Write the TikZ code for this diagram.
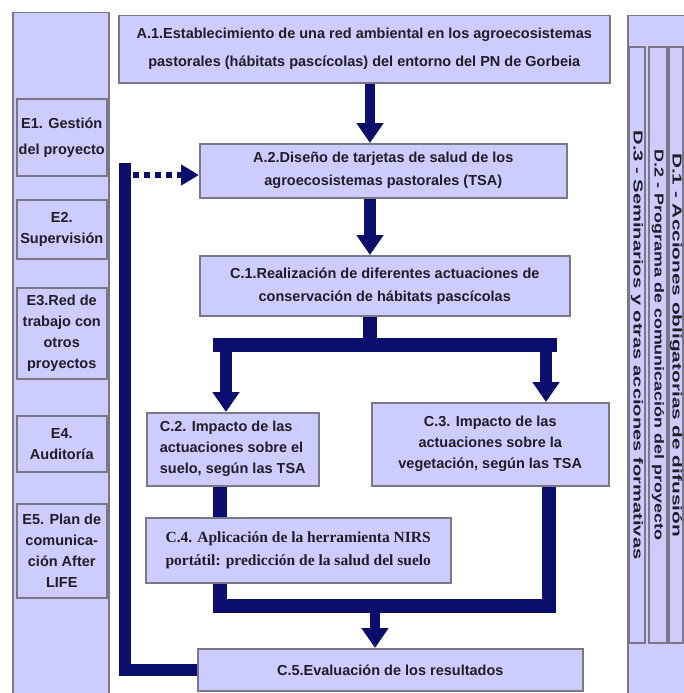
\documentclass[tikz,border=0pt]{standalone}
\usepackage{fontspec}
\setmainfont{Liberation Sans}
\newfontfamily\serifa{Liberation Serif}
\usetikzlibrary{arrows.meta}
\definecolor{lila}{RGB}{204,204,255}
\definecolor{marino}{RGB}{12,14,110}
\definecolor{borde}{RGB}{120,120,135}
\definecolor{texto}{RGB}{30,30,40}
\tikzset{ %inner sep = 0.5mm,
  {caja/.style} ={rectangle, draw=borde, line width=1.5pt, fill=lila,
                  anchor=north west, inner sep=0pt, align=center,
                  text=texto, font=\fontsize{14.5}{21}\selectfont\bfseries},
  {tira/.style} ={caja, anchor=center, rotate=-90,
                  font=\fontsize{13}{15}\selectfont\bfseries},
  {tronco/.style} ={draw=marino, line width=14pt},
  {flecha/.style} ={tronco, line width=12pt,
                    -{Triangle[width=26pt,length=20pt]}},
  {punteado/.style} ={draw=marino, line width=6pt, dash pattern=on 6pt off 5pt,
                      -{Triangle[width=20pt,length=18pt]}},
  linea/.style ={font=\fontsize{14.5}{#1}\selectfont\bfseries},
}

\begin{document}
\begin{tikzpicture}[x=1pt,y=-1pt]
    \useasboundingbox (0,0) rectangle (683,693);
    \fill[white] (0,0) rectangle (683,693);
    % columnas laterales
    \node[caja, minimum width=96, minimum height=700] (ecol) at (12,12) {};
    \node[caja, minimum width=80, minimum height=700] (dcol) at (627,15) {};
    \node[caja, linea=26, minimum width=90, minimum height=77] (e1) at (16,98)
    {E1. Gestión\\del proyecto};
    \node[caja, minimum width=90, minimum height=59] (e2) at (16,199)
    {E2.\\Supervisión};
    \node[caja, minimum width=90, minimum height=91] (e3) at (16,287)
    {E3.Red de\\trabajo con\\otros\\proyectos};
    \node[caja, minimum width=90, minimum height=56] (e4) at (16,415)
    {E4.\\Auditoría};
    \node[caja, minimum width=90, minimum height=94] (e5) at (16,503)
    {E5. Plan de\\comunica-\\ción After\\LIFE};
    \node[tira, minimum width=596, minimum height=16] (d3) at (637,345)
    {\scalebox{1.55}[1]{D.3 - Seminarios y otras acciones formativas}};
    \node[tira, minimum width=596, minimum height=18] (d2) at (658,345)
    {\scalebox{1.38}[1]{D.2 - Programa de comunicación del proyecto}};
    \node[tira, minimum width=596, minimum height=14] (d1) at (676,345)
    {\scalebox{1.6}[1]{D.1 - Acciones obligatorias de difusión}};
    % acciones
    \node[caja, linea=28, minimum width=491, minimum height=67] (a1) at (118,15)
    {A.1.Establecimiento de una red ambiental en los agroecosistemas\\
    pastorales (hábitats pascícolas) del entorno del PN de Gorbeia};
    \node[caja, linea=23, minimum width=367, minimum height=54] (a2) at (199,143)
    {A.2.Diseño de tarjetas de salud de los\\agroecosistemas pastorales (TSA)};
    \node[caja, linea=23, minimum width=370, minimum height=60] (c1) at (199,255)
    {C.1.Realización de diferentes actuaciones de\\
    conservación de hábitats pascícolas};
    \node[caja, align=left, minimum width=172, minimum height=73] (c2) at (146,412)
    {C.2. Impacto de las\\actuaciones sobre el\\suelo, según las TSA};
    \node[caja, minimum width=237, minimum height=83] (c3) at (371,402)
    {C.3. Impacto de las\\actuaciones sobre la\\vegetación, según las TSA};
    \node[caja, align=left, font=\serifa\fontsize{15.5}{23}\selectfont\bfseries,
    minimum width=305, minimum height=65] (c4) at (145,517)
    {C.4. Aplicación de la herramienta NIRS\\
    portátil: predicción de la salud del suelo};
    \node[caja, minimum width=385, minimum height=42] (c5) at (197,648)
    {C.5.Evaluación de los resultados};
    % conexiones
    \coordinate (eje) at (370,0);
    \coordinate (b1) at (213,345);
    \coordinate (b2) at (557,345);
    \coordinate (r1) at (226,345);
    \coordinate (r2) at (546,345);
    \coordinate (s1) at (220,606);
    \coordinate (s2) at (549,606);
    \coordinate (s3) at (375,606);
    \coordinate (f1) at (125,163);
    \coordinate (f2) at (133,175);
    \draw[flecha, line width=10pt] (a1.south -| eje) -- (a2.north -| eje);
    \draw[flecha] (a2.south -| eje) -- (c1.north -| eje);
    \draw[tronco] (c1.south -| eje) -- (eje |- b1);
    \draw[tronco] (b1) -- (b2);
    \draw[flecha] (r1) -- (c2.north -| r1);
    \draw[flecha] (r2) -- (c3.north -| r2);
    \draw[tronco] (c2.south -| s1) -- (c4.north -| s1);
    \draw[tronco] (c4.south -| s1) -- (s1) -- (s2) -- (c3.south -| s2);
    \draw[flecha, line width=10pt] (s3) -- (c5.north -| s3);
    \draw[tronco, line width=12pt] (c5.west) -| (f1);
    \draw[punteado] (f2) -- (a2.west |- f2);
\end{tikzpicture}
\end{document}
